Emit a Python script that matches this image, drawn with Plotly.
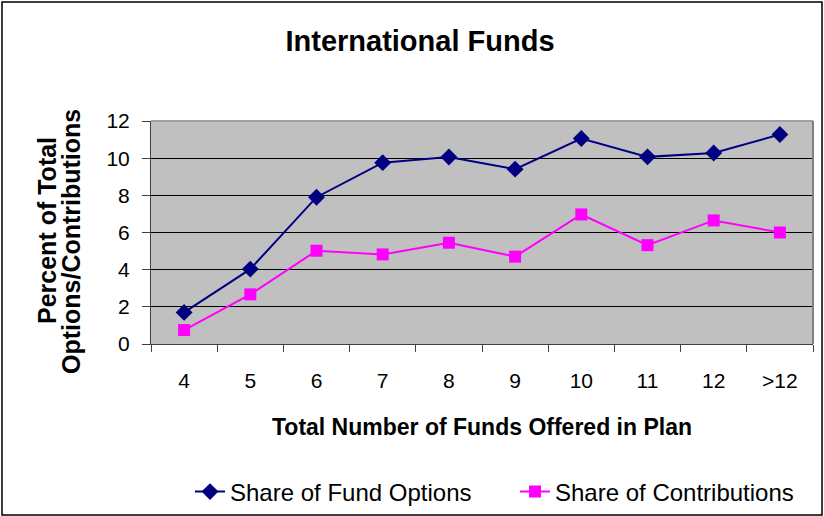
import plotly.graph_objects as go

categories = ["4", "5", "6", "7", "8", "9", "10", "11", "12", ">12"]
fund_options = [1.7, 4.03, 7.9, 9.76, 10.06, 9.41, 11.06, 10.07, 10.28, 11.27]
contributions = [0.75, 2.67, 5.02, 4.82, 5.45, 4.7, 6.97, 5.32, 6.65, 6.0]
y_ticks = [0, 2, 4, 6, 8, 10, 12]

W, H = 824, 516
L, R, T, B = 151, 813, 121, 344
pw, ph = R - L, B - T

def px(x):
    return (x - L) / pw

def py(y):
    return (B - y) / ph

fig = go.Figure()
fig.add_trace(go.Scatter(
    x=categories, y=fund_options, name="Share of Fund Options",
    mode="lines+markers",
    line=dict(color="#000080", width=2),
    marker=dict(symbol="diamond", size=13, color="#000080"),
))
fig.add_trace(go.Scatter(
    x=categories, y=contributions, name="Share of Contributions",
    mode="lines+markers",
    line=dict(color="#FF00FF", width=2),
    marker=dict(symbol="square", size=12, color="#FF00FF"),
))

font = "Arial, Liberation Sans, sans-serif"
fig.update_layout(
    width=W, height=H,
    margin=dict(l=L, r=W - R, t=T, b=H - B, pad=0, autoexpand=False),
    paper_bgcolor="white",
    plot_bgcolor="#C0C0C0",
    font=dict(family=font, size=20, color="black"),
    title=dict(text="<b>International Funds</b>", x=420 / W, xanchor="center",
               y=1 - 41 / H, yanchor="middle", font=dict(size=29, family=font)),
    showlegend=True,
    legend=dict(orientation="h", x=px(190), xanchor="left", y=py(492), yanchor="middle",
                font=dict(size=24), bgcolor="rgba(0,0,0,0)",
                entrywidth=280, entrywidthmode="pixels",
                tracegroupgap=0),
    xaxis=dict(
        type="category", range=[-0.5, 9.5], tickson="boundaries",
        ticks="outside", ticklen=7, tickcolor="#404040", tickwidth=1,
        showline=True, linecolor="#404040", linewidth=1,
        showgrid=False, tickfont=dict(size=21), ticklabelstandoff=18,
        automargin=False,
        title=dict(text="<b>Total Number of Funds Offered in Plan</b>",
                   font=dict(size=23), standoff=27),
    ),
    yaxis=dict(
        range=[0, 12], tickvals=y_ticks, ticks="outside", ticklen=8,
        tickcolor="#404040", showline=True, linecolor="#404040", linewidth=1,
        showgrid=True, gridcolor="#000000", gridwidth=1, zeroline=False,
        tickfont=dict(size=21), ticklabelstandoff=8, automargin=False,
    ),
    annotations=[
        dict(text="<b>Percent of Total</b>", textangle=-90, showarrow=False,
             xref="paper", yref="paper", x=px(47), y=py(231),
             xanchor="center", yanchor="middle", font=dict(size=25)),
        dict(text="<b>Options/Contributions</b>", textangle=-90, showarrow=False,
             xref="paper", yref="paper", x=px(71), y=py(242),
             xanchor="center", yanchor="middle", font=dict(size=25)),
    ],
    shapes=[
        dict(type="line", xref="paper", yref="paper", x0=0, x1=1, y0=1, y1=1,
             line=dict(color="#A0A0A0", width=2), layer="above"),
        dict(type="line", xref="paper", yref="paper", x0=1, x1=1, y0=0, y1=1,
             line=dict(color="#808080", width=2), layer="above"),
        dict(type="rect", xref="paper", yref="paper",
             x0=px(2), x1=px(822), y0=py(515), y1=py(2),
             line=dict(color="black", width=1.5), fillcolor="rgba(0,0,0,0)"),
    ],
)

fig.write_html("out.html", config={"displayModeBar": False},
               post_script="document.body.style.margin='0';document.body.style.overflow='hidden';")
